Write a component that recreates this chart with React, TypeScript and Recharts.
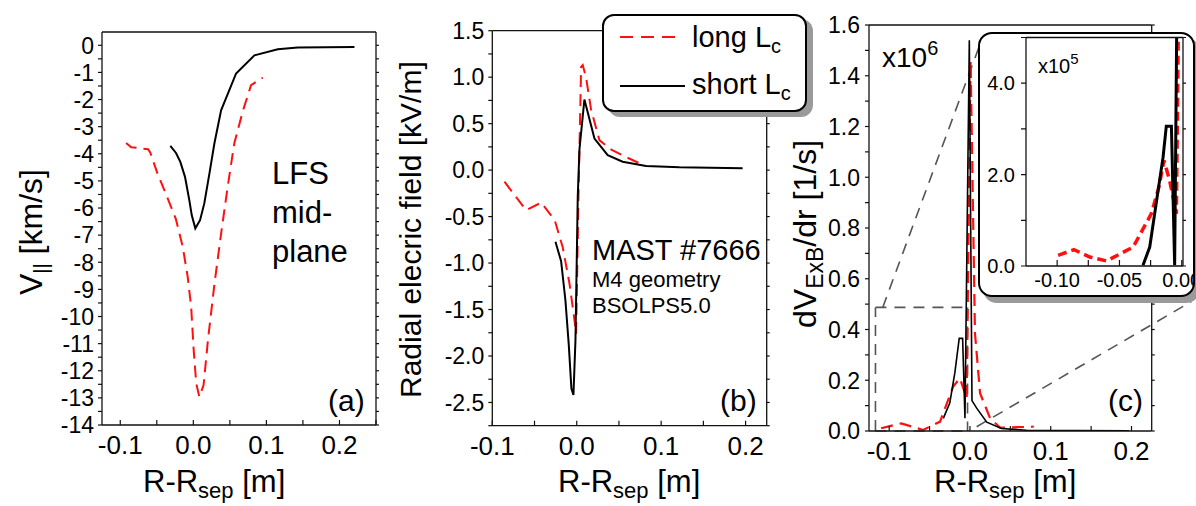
import React from 'react';
import { LineChart, Line, XAxis, YAxis, ReferenceLine } from 'recharts';

const FONT = '"Liberation Sans", Arial, Helvetica, sans-serif';
const RED = '#ff1010';
const GUIDE = '#555';

// (a) parallel velocity at the LFS midplane [km/s] vs R-Rsep [m]
const vparLong: [number, number][] = [
  [-0.092, -3.6], [-0.085, -3.76], [-0.062, -3.83], [-0.059, -3.95], [-0.049, -4.73],
  [-0.035, -5.65], [-0.024, -6.4], [-0.0145, -7.43], [-0.0077, -8.54], [-0.003, -9.64],
  [0.0005, -11.24], [0.004, -12.47], [0.0082, -12.96], [0.014, -12.53], [0.02, -10.87],
  [0.029, -8.78], [0.038, -6.94], [0.047, -5.22], [0.056, -3.62], [0.068, -2.4],
  [0.079, -1.47], [0.095, -1.19],
];
const vparShort: [number, number][] = [
  [-0.0315, -3.71], [-0.0237, -3.97], [-0.0178, -4.3], [-0.0114, -4.85], [-0.0055, -5.71],
  [-0.0022, -6.26], [0.0027, -6.75], [0.0092, -6.45], [0.015, -5.83], [0.022, -4.73],
  [0.0288, -3.62], [0.038, -2.4], [0.0585, -1.04], [0.0836, -0.37], [0.1156, -0.15],
  [0.143, -0.08], [0.2205, -0.06],
];

// (b) radial electric field [kV/m]
const erLong: [number, number][] = [
  [-0.0856, -0.125], [-0.06, -0.43], [-0.042, -0.35], [-0.026, -0.54], [-0.0166, -0.83],
  [-0.0086, -1.22], [-0.0027, -1.61], [-0.0007, -1.76], [0.002, -0.32], [0.0052, 1.11],
  [0.0071, 1.13], [0.011, 1.0], [0.017, 0.65], [0.027, 0.32], [0.041, 0.22],
  [0.0585, 0.14], [0.08, 0.05],
];
const erShort: [number, number][] = [
  [-0.0252, -0.77], [-0.0185, -0.98], [-0.0134, -1.4], [-0.0095, -1.87], [-0.0063, -2.35],
  [-0.0039, -2.42], [-0.0015, -1.83], [0.0012, -0.29], [0.0032, 0.22], [0.0091, 0.76],
  [0.021, 0.34], [0.0367, 0.16], [0.0544, 0.09], [0.0821, 0.044], [0.1215, 0.03],
  [0.1965, 0.02],
];

// (c) ExB shear dV/dr [x1e6 1/s]
const shearLong: [number, number][] = [
  [-0.11, 0.011], [-0.085, 0.03], [-0.058, 0.004], [-0.037, 0.037], [-0.0208, 0.175],
  [-0.0125, 0.208], [-0.0041, 0.129], [0.0008, 1.46], [0.0062, 0.385], [0.0125, 0.149],
  [0.025, 0.05], [0.0374, 0.013], [0.079, 0.017],
];
const shearShort: [number, number][] = [
  [-0.033, 0.05], [-0.025, 0.11], [-0.0187, 0.23], [-0.0133, 0.365], [-0.0091, 0.365],
  [-0.0062, 0.05], [-0.0008, 1.54], [0.0025, 0.12], [0.0083, 0.09], [0.0208, 0.035],
  [0.039, 0.01], [0.07, 0.003], [0.197, 0.001],
];

// inset of (c) [x1e5 1/s]
const insetLong: [number, number][] = [
  [-0.0992, 0.234], [-0.0866, 0.358], [-0.0738, 0.197], [-0.0604, 0.109], [-0.039, 0.415],
  [-0.0244, 1.145], [-0.0183, 1.73], [-0.0143, 2.31], [-0.0097, 1.87], [-0.0043, 1.145],
  [0.0008, 14.6],
];
const insetShort: [number, number][] = [
  [-0.0311, 0.015], [-0.0257, 0.415], [-0.019, 1.65], [-0.015, 2.38], [-0.0124, 3.06],
  [-0.0083, 3.06], [-0.0057, 0.015], [-0.0008, 15.4],
];

// tick labels
const xLabelsMain = [-0.1, 0, 0.1, 0.2];
const yLabelsA = [-14, -13, -12, -11, -10, -9, -8, -7, -6, -5, -4, -3, -2, -1, 0];
const yLabelsB = [-2.5, -2.0, -1.5, -1.0, -0.5, 0.0, 0.5, 1.0, 1.5];
const yLabelsC = [0.0, 0.2, 0.4, 0.6, 0.8, 1.0, 1.2, 1.4, 1.6];
const xLabelsInset = [-0.1, -0.05, 0];
const yLabelsInset = [0, 2, 4];

const seriesNames = ['long', 'short'];

// zoom guide for the inset, in panel (c) data units
const guideSegments: [number, number, number, number][] = [
  [-0.117, 0, -0.117, 0.487],
  [-0.117, 0.487, -0.003, 0.487],
  [-0.003, 0.487, -0.003, 0],
  [-0.117, 0, -0.003, 0],
  [-0.108, 0.487, 0.012, 1.52],
  [0.0083, 0.017, 0.274, 0.51],
];

const range = (a: number, b: number, s: number) => {
  const out: number[] = [];
  for (let i = 0; a + i * s <= b + 1e-9; i++) out.push(Math.round((a + i * s) * 1e6) / 1e6);
  return out;
};
const toPts = (d: [number, number][]) => d.map(([x, y]) => ({ x, y }));
const f1 = (v: number) => v.toFixed(1);
const f2 = (v: number) => v.toFixed(2);

type Side = 'left' | 'right' | 'top' | 'bottom';
const makeTick = (side: Side, len: number, labels: number[] = [], fmt: (v: number) => string = String, size = 23, gap = 8) =>
  (props: any) => {
    const { x, y, payload } = props;
    const v: number = payload.value;
    const show = labels.some((l) => Math.abs(l - v) < 1e-9);
    const st = { stroke: '#111', strokeWidth: 1.2 };
    const txt = { fontFamily: FONT, fontSize: size, fill: '#000' };
    if (side === 'left')
      return (
        <g>
          <line x1={x - len} y1={y} x2={x} y2={y} {...st} />
          {show && <text x={x - gap} y={y} dy="0.36em" textAnchor="end" {...txt}>{fmt(v)}</text>}
        </g>
      );
    if (side === 'right') return <line x1={x} y1={y} x2={x + len} y2={y} {...st} />;
    if (side === 'top') return <line x1={x} y1={y} x2={x} y2={y + len} {...st} />;
    return (
      <g>
        <line x1={x} y1={y} x2={x} y2={y - len} {...st} />
        {show && <text x={x} y={y + gap} textAnchor="middle" {...txt}>{fmt(v)}</text>}
      </g>
    );
  };

interface PanelProps {
  left: number; top: number; width: number; height: number;
  wl: number; wr: number; ht: number; hb: number;
  xDomain: [number, number]; yDomain: [number, number];
  xTicks: number[]; xLabels: number[]; xFmt: (v: number) => string;
  yTicks: number[]; yLabels: number[]; yFmt: (v: number) => string;
  xSize?: number; ySize?: number; xGap?: number; yGap?: number; tickLen?: number;
  children: React.ReactNode;
}

const Panel = (p: PanelProps) => {
  const axisLine = { stroke: '#111', strokeWidth: 1.3 };
  const len = p.tickLen ?? 4;
  const common = { type: 'number' as const, allowDataOverflow: true, interval: 0 as const, tickSize: 0, tickMargin: 0, tickLine: false, axisLine };
  return (
    <div style={{ position: 'absolute', left: p.left, top: p.top, width: p.width, height: p.height }}>
      <LineChart width={p.width} height={p.height} margin={{ top: 0, right: 0, bottom: 0, left: 0 }}>
        <XAxis {...common} xAxisId={0} dataKey="x" domain={p.xDomain} ticks={p.xTicks} height={p.hb}
          tick={makeTick('bottom', len + 1, p.xLabels, p.xFmt, p.xSize ?? 26, p.xGap ?? 29)} />
        <XAxis {...common} xAxisId="top" orientation="top" domain={p.xDomain} ticks={p.xTicks} height={p.ht}
          tick={makeTick('top', -3)} />
        <YAxis {...common} yAxisId={0} domain={p.yDomain} ticks={p.yTicks} width={p.wl}
          tick={makeTick('left', len, p.yLabels, p.yFmt, p.ySize ?? 23, p.yGap ?? 8)} />
        <YAxis {...common} yAxisId="right" orientation="right" domain={p.yDomain} ticks={p.yTicks} width={p.wr}
          tick={makeTick('right', 3)} />
        {p.children}
      </LineChart>
    </div>
  );
};

const longLine = (data: [number, number][], w = 2, dash = '12 7') => (
  <Line key="long" data={toPts(data)} dataKey="y" type="linear" stroke={RED} strokeWidth={w}
    strokeDasharray={dash} dot={false} activeDot={false} isAnimationActive={false} />
);
const shortLine = (data: [number, number][], w = 2) => (
  <Line key="short" data={toPts(data)} dataKey="y" type="linear" stroke="#000" strokeWidth={w}
    dot={false} activeDot={false} isAnimationActive={false} />
);

const T = { fontFamily: FONT, fill: '#000' };

const RTitle = ({ x }: { x: number }) => (
  <text x={x} y={492} fontSize={31} {...T}>
    R-R<tspan fontSize={22} dy={6}>sep</tspan><tspan dy={-6}> [m]</tspan>
  </text>
);

export default function App() {
  return (
    <div style={{ position: 'absolute', left: 0, top: 0, width: 1196, height: 506, background: '#fff', overflow: 'hidden' }}>
      <Panel left={0} top={0} width={390} height={506} wl={102} wr={14} ht={32} hb={81}
        xDomain={[-0.125, 0.25]} yDomain={[-14, 0.49]}
        xTicks={range(-0.1, 0.25, 0.05)} xLabels={xLabelsMain} xFmt={f1}
        yTicks={range(-14, 0, 0.5)} yLabels={yLabelsA} yFmt={(v) => String(v)}>
        {longLine(vparLong)}
        {shortLine(vparShort)}
      </Panel>

      <Panel left={390} top={0} width={400} height={506} wl={102.3} wr={23.3} ht={30.7} hb={80.3}
        xDomain={[-0.1, 0.225]} yDomain={[-2.75, 1.5]}
        xTicks={range(-0.1, 0.2, 0.05)} xLabels={xLabelsMain} xFmt={f1}
        yTicks={range(-2.75, 1.5, 0.25)} yLabels={yLabelsB} yFmt={f1}>
        {longLine(erLong)}
        {shortLine(erShort)}
      </Panel>

      <Panel left={790} top={0} width={406} height={506} wl={79} wr={44.3} ht={25} hb={75}
        xDomain={[-0.125, 0.225]} yDomain={[0, 1.6]}
        xTicks={range(-0.1, 0.2, 0.05)} xLabels={xLabelsMain} xFmt={f1}
        yTicks={range(0, 1.6, 0.1)} yLabels={yLabelsC} yFmt={f1} yGap={9}>
        {guideSegments.map(([x1, y1, x2, y2], i) => (
          <ReferenceLine key={`g${i}`} segment={[{ x: x1, y: y1 }, { x: x2, y: y2 }]} stroke={GUIDE}
            strokeWidth={1.6} strokeDasharray="11 8" ifOverflow="visible" />
        ))}
        {longLine(shearLong, 2.2)}
        {shortLine(shearShort, 1.6)}
      </Panel>

      <svg width={1196} height={506} style={{ position: 'absolute', left: 0, top: 0, pointerEvents: 'none' }}>
        {/* axis titles */}
        <text x={42} y={295} fontSize={32} transform="rotate(-90 42 295)" {...T}>
          V<tspan fontSize={20} dy={6}>||</tspan><tspan dy={-6}> [km/s]</tspan>
        </text>
        <text x={421} y={398} fontSize={30} transform="rotate(-90 421 398)" {...T}>
          Radial elecric field [kV/m]
        </text>
        <text x={816} y={328} fontSize={32} transform="rotate(-90 816 328)" {...T}>
          dV<tspan fontSize={23} dy={7}>ExB</tspan><tspan dy={-7}>/dr [1/s]</tspan>
        </text>
        <RTitle x={143} />
        <RTitle x={558} />
        <RTitle x={934} />

        {/* annotations */}
        <text x={272} fontSize={31} {...T}>
          <tspan x={272} y={184}>LFS</tspan>
          <tspan x={272} y={223}>mid-</tspan>
          <tspan x={272} y={262}>plane</tspan>
        </text>
        <text x={592} y={260} fontSize={29} {...T}>MAST #7666</text>
        <text x={592} y={287} fontSize={22} {...T}>M4 geometry</text>
        <text x={592} y={313} fontSize={22} {...T}>BSOLPS5.0</text>
        <text x={882} y={67} fontSize={28} {...T}>x10<tspan fontSize={20} dy={-12}>6</tspan></text>
        <text x={328} y={411} fontSize={30} {...T}>(a)</text>
        <text x={720} y={411} fontSize={30} {...T}>(b)</text>
        <text x={1108} y={411} fontSize={30} {...T}>(c)</text>
      </svg>

      {/* legend */}
      <div style={{ position: 'absolute', left: 602, top: 14, width: 205, height: 98, boxSizing: 'border-box',
        border: '2px solid #000', borderRadius: 12, background: '#fff', boxShadow: '6px 5px 0 #9a9a9a' }}>
        <svg width={205} height={98} style={{ position: 'absolute', left: -2, top: -2 }}>
          {seriesNames.map((name, i) => (
            <g key={name}>
              <line x1={18} x2={i === 0 ? 73 : 83} y1={23 + i * 49} y2={23 + i * 49}
                stroke={i === 0 ? RED : '#000'} strokeWidth={2.2} strokeDasharray={i === 0 ? '13 8' : undefined} />
              <text x={90} y={33 + i * 47} fontSize={29} {...T}>
                {name} L<tspan fontSize={20} dy={6}>c</tspan>
              </text>
            </g>
          ))}
        </svg>
      </div>

      {/* inset */}
      <div style={{ position: 'absolute', left: 978, top: 32, width: 217, height: 265, boxSizing: 'border-box',
        border: '2px solid #000', borderRadius: 14, background: '#fff', boxShadow: '5px 6px 0 #9a9a9a', overflow: 'hidden' }}>
        <div style={{ position: 'absolute', left: -2, top: -2, width: 217, height: 265 }}>
          <Panel left={0} top={0} width={217} height={265} wl={48} wr={12} ht={5.5} hb={31}
            xDomain={[-0.125, 0.001]} yDomain={[0, 5]}
            xTicks={range(-0.1, 0, 0.025)} xLabels={xLabelsInset} xFmt={f2}
            yTicks={range(0, 5, 1)} yLabels={yLabelsInset} yFmt={f1}
            xSize={20} ySize={20} xGap={21} yGap={11} tickLen={5}>
            {longLine(insetLong, 3.5, '9 5')}
            {shortLine(insetShort, 3)}
          </Panel>
          <svg width={217} height={265} style={{ position: 'absolute', left: 0, top: 0, pointerEvents: 'none' }}>
            <text x={60} y={41} fontSize={20} {...T}>x10<tspan fontSize={15} dy={-9}>5</tspan></text>
          </svg>
        </div>
      </div>
    </div>
  );
}
